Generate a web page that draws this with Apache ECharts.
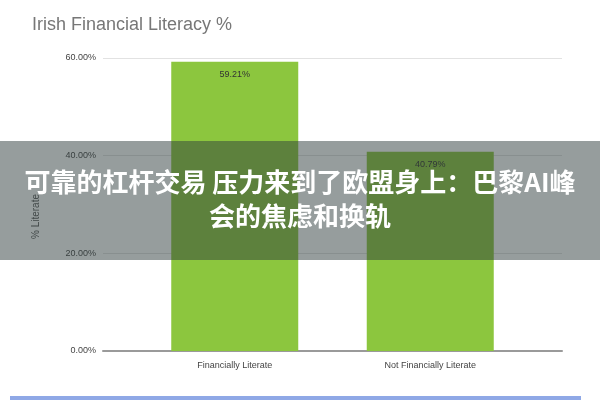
<!DOCTYPE html>
<html>
<head>
<meta charset="utf-8">
<script src="https://cdn.jsdelivr.net/npm/echarts@6/dist/echarts.min.js"></script>
<style>
html,body{margin:0;padding:0;background:#fff;}
#chart{width:600px;height:400px;}
</style>
</head>
<body>
<div id="chart"></div>
<script>
const titleText = 'Irish Financial Literacy %';
const categories = ['Financially Literate', 'Not Financially Literate'];
const literacyValues = [59.21, 40.79];
const yTicks = [0, 20, 40, 60];
const yAxisName = '% Literate';
const overlayLines = ['可靠的杠杆交易 压力来到了欧盟身上：巴黎AI峰', '会的焦虑和换轨'];

const chart = echarts.init(document.getElementById('chart'), null, {renderer: 'canvas'});
const font = '"Liberation Sans", Arial, sans-serif';
const cjk = '"Noto Sans CJK SC", "Noto Sans", sans-serif';

chart.setOption({
  animation: false,
  backgroundColor: '#ffffff',
  title: {
    text: titleText,
    left: 27, top: 11,
    textStyle: {fontFamily: font, fontSize: 18, fontWeight: 'normal', color: '#777777'}
  },
  grid: [
    {left: 103, right: 38, top: 58, bottom: 49},
    {left: 137, right: 72, top: 58, bottom: 49}
  ],
  xAxis: [
    {gridIndex: 0, type: 'category', data: categories,
     axisLine: {show: true, lineStyle: {color: '#9a9a9a', width: 2}},
     axisTick: {show: false}, axisLabel: {show: false}, splitLine: {show: false}},
    {gridIndex: 1, type: 'category', data: categories,
     axisLine: {show: false}, axisTick: {show: false},
     axisLabel: {margin: 10, fontFamily: font, fontSize: 9, color: '#444'}}
  ],
  yAxis: [
    {gridIndex: 0, type: 'value', min: yTicks[0], max: yTicks[yTicks.length - 1], interval: 20,
     name: yAxisName, nameLocation: 'middle', nameGap: 62, nameRotate: 90,
     nameTextStyle: {fontFamily: font, fontSize: 10, color: '#555', padding: [0, 24, 0, 0]},
     axisLabel: {margin: 7, fontFamily: font, fontSize: 9, color: '#444',
                 formatter: v => v.toFixed(2) + '%'},
     axisLine: {show: false}, axisTick: {show: false},
     splitLine: {lineStyle: {color: '#e2e2e2', width: 1}}},
    {gridIndex: 1, type: 'value', min: yTicks[0], max: yTicks[yTicks.length - 1], interval: 20,
     show: false, splitLine: {show: false}}
  ],
  series: [{
    type: 'bar', xAxisIndex: 1, yAxisIndex: 1,
    data: literacyValues,
    barWidth: 127,
    itemStyle: {color: '#8cc63e'},
    label: {show: true, position: 'insideTop', distance: 8,
            fontFamily: font, fontSize: 9, color: '#333',
            formatter: p => p.value.toFixed(2) + '%'}
  }],
  graphic: [
    {type: 'rect', left: 0, top: 141, z: 100,
     shape: {width: 600, height: 119},
     style: {fill: 'rgba(45,60,60,0.5)'}},
    {type: 'text', left: 'center', top: 169, z: 101,
     style: {text: overlayLines[0], font: 'bold 26px ' + cjk, fill: '#ffffff'}},
    {type: 'text', left: 'center', top: 203, z: 101,
     style: {text: overlayLines[1], font: 'bold 26px ' + cjk, fill: '#ffffff'}},
    {type: 'rect', left: 10, top: 396, z: 100,
     shape: {width: 571, height: 4},
     style: {fill: '#8fa8e6'}}
  ]
});
</script>
</body>
</html>
